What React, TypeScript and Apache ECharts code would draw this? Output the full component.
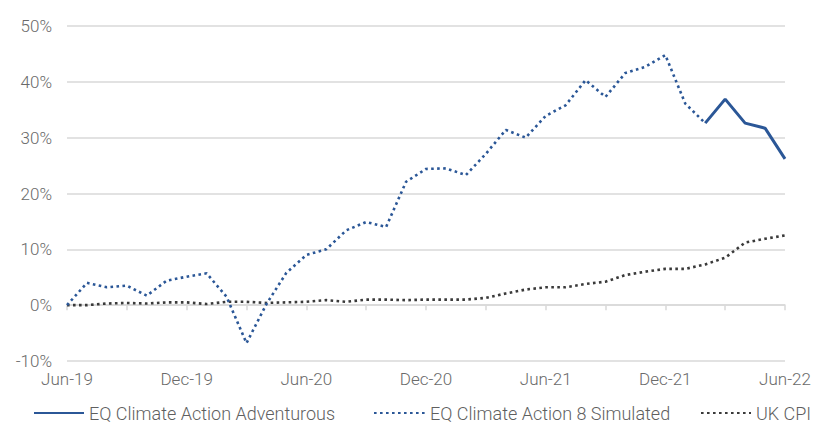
import React, { useEffect, useRef } from "react";
import * as echarts from "echarts";

const categories = [
  "Jun-19", "Jul-19", "Aug-19", "Sep-19", "Oct-19", "Nov-19", "Dec-19",
  "Jan-20", "Feb-20", "Mar-20", "Apr-20", "May-20", "Jun-20",
  "Jul-20", "Aug-20", "Sep-20", "Oct-20", "Nov-20", "Dec-20",
  "Jan-21", "Feb-21", "Mar-21", "Apr-21", "May-21", "Jun-21",
  "Jul-21", "Aug-21", "Sep-21", "Oct-21", "Nov-21", "Dec-21",
  "Jan-22", "Feb-22", "Mar-22", "Apr-22", "May-22", "Jun-22",
];

const adventurous: (number | null)[] = [
  null, null, null, null, null, null, null, null, null, null, null, null,
  null, null, null, null, null, null, null, null, null, null, null, null,
  null, null, null, null, null, null, null, null,
  32.6, 36.9, 32.6, 31.7, 26.2,
];

const simulated: (number | null)[] = [
  0, 4.0, 3.2, 3.5, 1.7, 4.4, 5.1, 5.7, 1.5, -6.8, 0.2, 5.8, 9.0,
  10.0, 13.4, 14.9, 14.0, 22.1, 24.4, 24.5, 23.3, 27.1, 31.4, 30.0, 33.9,
  35.8, 40.3, 37.3, 41.6, 42.7, 44.8, 36.1, 32.6,
  null, null, null, null,
];

const ukCpi = [
  0, 0, 0.3, 0.4, 0.3, 0.5, 0.5, 0.2, 0.6, 0.6, 0.4, 0.5, 0.6,
  0.9, 0.6, 1.0, 1.0, 0.9, 1.0, 1.0, 1.0, 1.3, 2.1, 2.8, 3.2,
  3.2, 3.8, 4.2, 5.4, 6.0, 6.5, 6.5, 7.3, 8.5, 11.2, 11.9, 12.5,
];

const seriesNames = [
  "EQ Climate Action Adventurous",
  "EQ Climate Action 8 Simulated",
  "UK CPI",
];

const yTicks = { min: -10, max: 50, interval: 10 };

const FONT = "Roboto";
const WEIGHT = 300;
const BLUE = "#2b5797";
const DARK = "#3a3a3a";
const GRID = "#d9d9d9";
const LABEL = "#6a6a6a";

export default function App() {
  const ref = useRef<HTMLDivElement>(null);

  useEffect(() => {
    document.body.style.margin = "0";
    if (!ref.current) return;
    const chart = echarts.init(ref.current, undefined, { renderer: "svg" });
    const legendText = { color: "#5f5f5f", fontSize: 18, lineHeight: 15, fontFamily: FONT, fontWeight: WEIGHT };
    const legendBase = {
      top: 404,
      padding: 0,
      itemHeight: 10,
      selectedMode: false,
      textStyle: legendText,
      itemStyle: { opacity: 0 },
    };
    chart.setOption({
      animation: false,
      backgroundColor: "#ffffff",
      grid: { left: 67, right: 29, top: 26, bottom: 62, containLabel: false },
      legend: [
        { ...legendBase, data: [seriesNames[0]], left: 33, itemWidth: 50 },
        { ...legendBase, data: [seriesNames[1]], left: 373, itemWidth: 51 },
        { ...legendBase, data: [seriesNames[2]], left: 700, itemWidth: 50 },
      ],
      xAxis: [
        {
          type: "category",
          data: categories,
          boundaryGap: false,
          position: "bottom",
          axisLine: { show: false, onZero: false },
          axisTick: { show: false },
          splitLine: { show: false },
          axisLabel: { interval: 5, color: LABEL, fontSize: 17, fontFamily: FONT, fontWeight: WEIGHT, margin: 9 },
        },
        {
          type: "category",
          data: categories,
          boundaryGap: false,
          position: "bottom",
          axisLine: { show: true, onZero: true, lineStyle: { color: GRID, width: 1.5 } },
          axisTick: { show: true, interval: 2, length: 5, lineStyle: { color: GRID, width: 1.5 } },
          axisLabel: { show: false },
          splitLine: { show: false },
        },
      ],
      yAxis: {
        type: "value",
        min: yTicks.min,
        max: yTicks.max,
        interval: yTicks.interval,
        axisLine: { show: false },
        axisTick: { show: false },
        axisLabel: { formatter: "{value}%", color: LABEL, fontSize: 17, fontFamily: FONT, fontWeight: WEIGHT, margin: 15 },
        splitLine: { lineStyle: { color: GRID, width: 1.5 } },
      },
      series: [
        {
          name: seriesNames[0],
          type: "line",
          data: adventurous,
          symbol: "none",
          connectNulls: false,
          lineStyle: { color: BLUE, width: 3 },
          itemStyle: { color: BLUE },
          z: 4,
        },
        {
          name: seriesNames[1],
          type: "line",
          data: simulated,
          symbol: "none",
          connectNulls: false,
          lineStyle: { color: BLUE, width: 2.6, type: [2.6, 3.4] },
          itemStyle: { color: BLUE },
          z: 3,
        },
        {
          name: seriesNames[2],
          type: "line",
          data: ukCpi,
          symbol: "none",
          lineStyle: { color: DARK, width: 2.6, type: [2.6, 3.4] },
          itemStyle: { color: DARK },
          z: 2,
        },
      ],
    });
    return () => chart.dispose();
  }, []);

  return (
    <div
      ref={ref}
      style={{ position: "absolute", left: 0, top: 0, width: 814, height: 423 }}
    />
  );
}
